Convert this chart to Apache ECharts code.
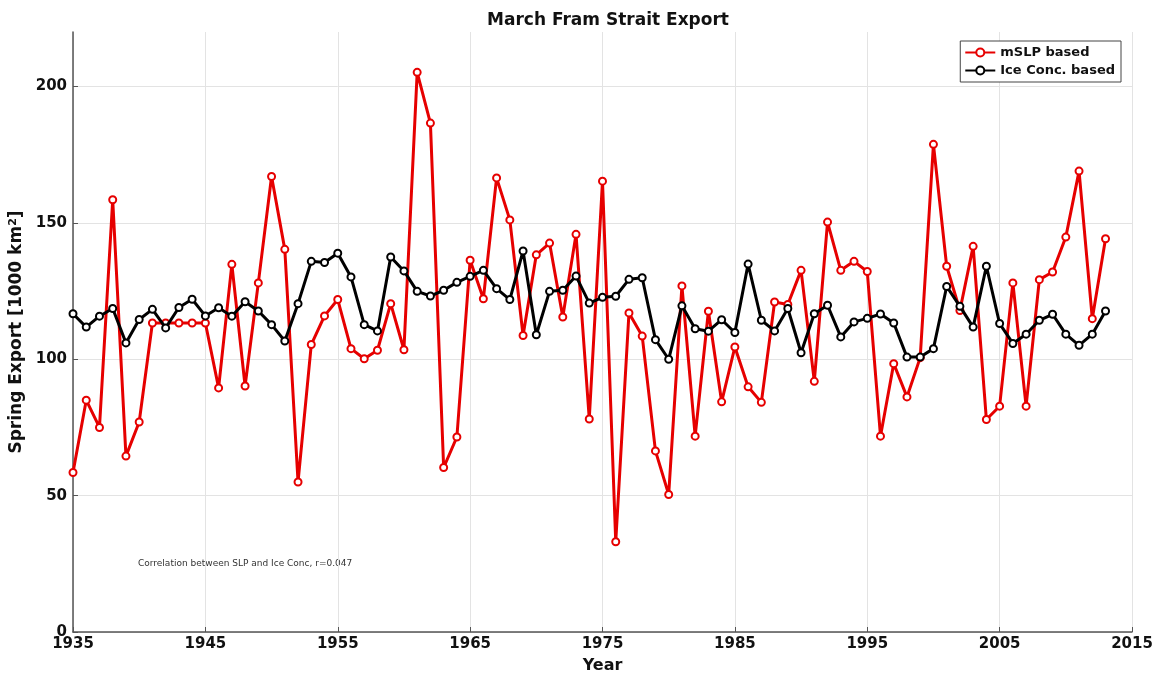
<!DOCTYPE html>
<html>
<head>
<meta charset="utf-8">
<script src="https://cdn.jsdelivr.net/npm/echarts@6/dist/echarts.min.js"></script>
<style>
  html, body { margin: 0; padding: 0; background: #fff; }
  #chart { width: 1158px; height: 674px; }
</style>
</head>
<body>
<div id="chart"></div>
<script>
// Years of record
const years = [];
for (let y = 1935; y <= 2013; y++) years.push(y);

// Spring export estimated from mean sea-level pressure [1000 km^2]
const mslpExport = [
  58.5, 85, 75, 158.5, 64.5, 77, 113.3, 113.3, 113.3, 113.3,
  113.3, 89.5, 134.8, 90.2, 128, 167, 140.3, 55, 105.4, 115.9,
  121.9, 103.9, 100.2, 103.3, 120.4, 103.5, 205.2, 186.6, 60.3, 71.5,
  136.3, 122.2, 166.5, 151.1, 108.7, 138.3, 142.6, 115.5, 145.8, 78.1,
  165.3, 33.1, 117, 108.5, 66.4, 50.4, 126.9, 71.8, 117.6, 84.4,
  104.5, 89.9, 84.2, 121, 120.1, 132.6, 91.9, 150.3, 132.6, 135.9,
  132.2, 71.8, 98.4, 86.2, 100.6, 178.8, 134.1, 117.9, 141.4, 77.9,
  82.8, 128, 82.8, 129.2, 132, 144.8, 169, 114.9, 144.2
];

// Spring export estimated from ice concentration [1000 km^2]
const iceConcExport = [
  116.7, 111.8, 115.8, 118.6, 106, 114.6, 118.3, 111.5, 119, 122,
  115.9, 118.9, 115.8, 121.1, 117.7, 112.7, 106.7, 120.4, 135.9, 135.5,
  138.9, 130.2, 112.7, 110.4, 137.5, 132.4, 124.9, 123.2, 125.3, 128.2,
  130.4, 132.6, 125.9, 121.9, 139.7, 109, 124.9, 125.3, 130.5, 120.6,
  122.7, 123.1, 129.3, 129.9, 107.2, 100, 119.6, 111.2, 110.3, 114.5,
  109.8, 134.9, 114.3, 110.4, 118.6, 102.4, 116.7, 119.8, 108.2, 113.7,
  115, 116.6, 113.3, 100.8, 100.8, 103.9, 126.7, 119.4, 111.8, 134.1,
  113.1, 105.8, 109.2, 114.3, 116.5, 109.2, 105.1, 109.2, 117.7
];

const seriesNames = ['mSLP based', 'Ice Conc. based'];
const chartTitle = 'March Fram Strait Export';
const xAxisTitle = 'Year';
const yAxisTitle = 'Spring Export [1000 km{sup|2}]';
const note = 'Correlation between SLP and Ice Conc, r=0.047';

const font = "'DejaVu Sans', sans-serif";

const pairs = (vals) => years.map((y, i) => [y, vals[i]]);

const chart = echarts.init(document.getElementById('chart'), null, { renderer: 'canvas' });

chart.setOption({
  backgroundColor: '#ffffff',
  animation: false,
  title: {
    text: chartTitle,
    left: 603,
    textAlign: 'center',
    top: 7,
    textStyle: { fontFamily: font, fontWeight: 'bold', fontSize: 17, color: '#111' }
  },
  grid: { left: 73, right: 26, top: 32, bottom: 42, outerBoundsMode: 'none' },
  legend: {
    orient: 'vertical',
    right: 37,
    top: 41,
    backgroundColor: '#fff',
    borderColor: '#444',
    borderWidth: 1,
    padding: [5, 6, 5, 4],
    itemGap: 5,
    itemWidth: 30,
    itemHeight: 10,
    textStyle: { fontFamily: font, fontWeight: 'bold', fontSize: 13, color: '#111' },
    data: seriesNames
  },
  xAxis: {
    type: 'value',
    min: 1935,
    max: 2015,
    interval: 10,
    name: xAxisTitle,
    nameLocation: 'middle',
    nameGap: 26,
    nameTextStyle: { fontFamily: font, fontWeight: 'bold', fontSize: 16, color: '#111' },
    axisLine: { show: true, lineStyle: { color: '#555', width: 1.5 } },
    axisTick: { show: true, inside: true, length: 5, lineStyle: { color: '#555' } },
    axisLabel: {
      margin: 5,
      fontFamily: font, fontWeight: 'bold', fontSize: 15, color: '#111',
      formatter: (v) => String(v)
    },
    splitLine: { show: true, lineStyle: { color: '#e3e3e3', width: 1 } }
  },
  yAxis: {
    type: 'value',
    min: 0,
    max: 220,
    interval: 50,
    name: yAxisTitle,
    nameLocation: 'middle',
    nameGap: 45,
    nameTextStyle: {
      fontFamily: font, fontWeight: 'bold', fontSize: 17, color: '#111',
      rich: { sup: { fontFamily: font, fontWeight: 'bold', fontSize: 11, verticalAlign: 'top', padding: [0, 0, 7, 0], color: '#111' } }
    },
    axisLine: { show: true, lineStyle: { color: '#555', width: 1.5 } },
    axisTick: { show: true, inside: true, length: 5, lineStyle: { color: '#555' } },
    axisLabel: {
      margin: 6,
      showMaxLabel: false,
      fontFamily: font, fontWeight: 'bold', fontSize: 15, color: '#111'
    },
    splitLine: {
      show: true,
      lineStyle: { color: ['#e3e3e3', '#e3e3e3', '#e3e3e3', '#e3e3e3', '#e3e3e3', 'rgba(0,0,0,0)'], width: 1 }
    }
  },
  graphic: [{
    type: 'text',
    left: 138,
    top: 559,
    style: { text: note, fontFamily: font, fontSize: 9, fill: '#333' }
  }],
  series: [
    {
      name: seriesNames[0],
      type: 'line',
      data: pairs(mslpExport),
      symbol: 'emptyCircle',
      symbolSize: 7,
      lineStyle: { color: '#e60000', width: 3 },
      itemStyle: { color: '#e60000', borderColor: '#e60000', borderWidth: 2 },
      z: 2
    },
    {
      name: seriesNames[1],
      type: 'line',
      data: pairs(iceConcExport),
      symbol: 'emptyCircle',
      symbolSize: 7,
      lineStyle: { color: '#000000', width: 3 },
      itemStyle: { color: '#000000', borderColor: '#000000', borderWidth: 2 },
      z: 3
    }
  ]
});
</script>
</body>
</html>
